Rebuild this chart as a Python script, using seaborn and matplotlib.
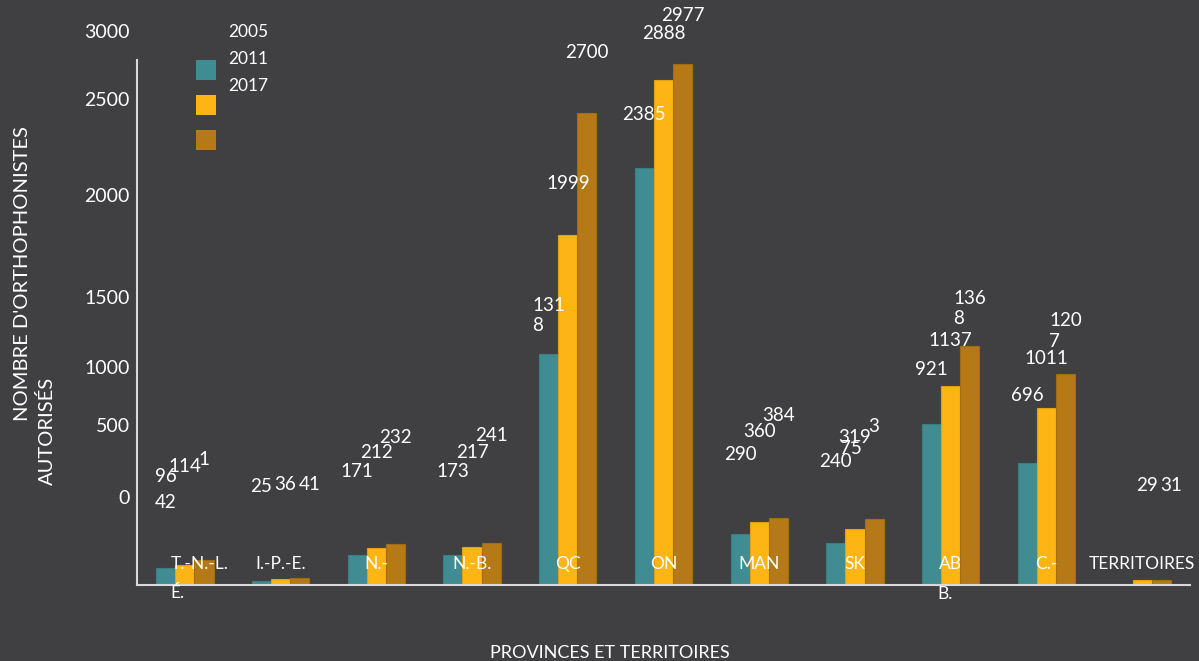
#!/usr/bin/env python
"""
Nombre d'orthophonistes autorises par province et territoire, 2005/2011/2017.
"""

# --- Imports
import numpy as np
import pandas as pd
import seaborn as sns
import matplotlib.pyplot as plt
from matplotlib.patches import Rectangle
from matplotlib.transforms import blended_transform_factory, ScaledTranslation

# --- Data
categories = ["T.-N.-L.", "Î.-P.-É.", "N.-É.", "N.-B.", "QC", "ON",
              "MAN", "SK", "AB", "C.-B.", "TERRITOIRES"]
tick_labels = ["T.-N.-L.", "I.-P.-E.", "N.-", "N.-B.", "QC", "ON",
               "MAN", "SK", "AB", "C.-", "TERRITOIRES"]
years = ["2005", "2011", "2017"]
v2005 = [96, 25, 171, 173, 1318, 2385, 290, 240, 921, 696, np.nan]
v2011 = [114, 36, 212, 217, 1999, 2888, 360, 319, 1137, 1011, 29]
v2017 = [142, 41, 232, 241, 2700, 2977, 384, 375, 1368, 1207, 31]
y_tick_values = [0, 500, 1000, 1500, 2000, 2500, 3000]

# --- Style
W, H = 1199, 661
BG = "#404042"
FG = "#ffffff"
AXIS = "#d9d9d9"
colors = ["#3f8c93", "#fdb515", "#b57a17"]
edges = ["#3a7f86", "#e0a012", "#a06c14"]
LAB = 13.5

# pixel rows where the (shifted) y tick labels sit
y_tick_px = [498, 427, 368, 298, 197, 100, 32]

plt.rcParams["font.family"] = ["Lato", "DejaVu Sans"]


def fy(px):
    """figure fraction from a pixel row"""
    return 1 - px / H


def main():
    df = pd.DataFrame({
        "category": categories * 3,
        "year": [y for y in years for _ in categories],
        "value": v2005 + v2011 + v2017,
    })

    fig = plt.figure(figsize=(W / 100, H / 100), dpi=100, facecolor=BG)
    ax = fig.add_axes([137 / W, fy(585), (1190 - 137) / W, (585 - 60) / H])
    ax.set_facecolor(BG)

    sns.barplot(data=df, x="category", y="value", hue="year",
                hue_order=years, palette=colors, saturation=1, width=0.6,
                errorbar=None, legend=False, ax=ax, linewidth=0.8)
    # thin darker outlines per series
    for cont, ec in zip(ax.containers, edges):
        for bar in cont:
            bar.set_edgecolor(ec)

    ax.set_ylim(0, 3000)
    ax.set_xlim(-0.5, len(categories) - 0.5)
    ax.set_xlabel("")
    ax.set_ylabel("")
    ax.set_yticks([])
    ax.set_xticks(range(len(categories)), tick_labels)
    ax.tick_params(axis="x", length=0, pad=-21, labelsize=12.5, labelcolor=FG)
    # first category label sits a little to the right in the original
    lab0 = ax.get_xticklabels()[0]
    lab0.set_transform(lab0.get_transform()
                       + ScaledTranslation(0.15, 0, fig.dpi_scale_trans))
    for s in ["top", "right"]:
        ax.spines[s].set_visible(False)
    for s in ["left", "bottom"]:
        ax.spines[s].set_color(AXIS)
        ax.spines[s].set_linewidth(1.5)

    # stray wrapped fragments of the category labels
    tr = blended_transform_factory(ax.transData, fig.transFigure)
    ax.text(0 - 0.08, fy(593), "É.", transform=tr, ha="center", va="center",
            color=FG, fontsize=12.5)
    ax.text(8 - 0.06, fy(594), "B.", transform=tr, ha="center", va="center",
            color=FG, fontsize=12.5)

    # y tick labels (drawn where the original puts them)
    for v, p in zip(y_tick_values, y_tick_px):
        fig.text(130 / W, fy(p), str(v), ha="right", va="center",
                 color=FG, fontsize=14)

    # value labels
    wrapped = {(4, 0), (8, 2), (9, 2)}
    odd_wrap = {(0, 2): (-38, 43), (7, 2): (-23, 22)}
    series = [v2005, v2011, v2017]
    for i, vals in enumerate(series):
        for j, v in enumerate(vals):
            if np.isnan(v):
                continue
            txt = str(int(v))
            base = np.interp(v, y_tick_values, y_tick_px)
            if len(txt) <= 2:
                x = j + (i - 1) * 0.25 + 0.05
            else:
                x = j + (i - 1) * 0.2
            if (j, i) in odd_wrap:
                dx, dy = odd_wrap[(j, i)]
                y1 = base - 18
                ax.text(x, fy(y1), txt[:1], transform=tr, ha="center",
                        va="center", color=FG, fontsize=LAB)
                xpx = ax.transData.transform((x, 0))[0] + dx
                fig.text(xpx / W, fy(y1 + dy), txt[1:], ha="center",
                         va="center", color=FG, fontsize=LAB)
                continue
            if len(txt) == 3 and v < 600:
                yp = base - 2 - 13 * i
            elif v >= 1500:
                yp = base - 8 - 6 * i
            else:
                yp = base - 8
            if (j, i) in wrapped:
                txt = txt[:3] + "\n" + txt[3:]
            ax.text(x, fy(yp), txt, transform=tr, ha="center", va="center",
                    multialignment="left", linespacing=1.25,
                    color=FG, fontsize=LAB)

    # legend (squares and labels do not line up, as in the original)
    for k, c in enumerate(colors):
        fig.patches.append(Rectangle((196 / W, fy(80 + 35 * k)), 20 / W, 20 / H,
                                     transform=fig.transFigure, facecolor=c,
                                     edgecolor="none"))
        fig.text(228 / W, fy(32 + 27 * k), years[k], ha="left", va="center",
                 color=FG, fontsize=12.5)

    # axis titles
    fig.text(23 / W, fy(274), "NOMBRE D'ORTHOPHONISTES", rotation=90,
             ha="center", va="center", color=FG, fontsize=14.5)
    fig.text(47 / W, fy(431), "AUTORISÉS", rotation=90,
             ha="center", va="center", color=FG, fontsize=14.5)
    fig.text(610 / W, fy(653), "PROVINCES ET TERRITOIRES", ha="center",
             va="center", color=FG, fontsize=13)

    fig.savefig("out.png", dpi=100, facecolor=BG)


if __name__ == "__main__":
    main()
